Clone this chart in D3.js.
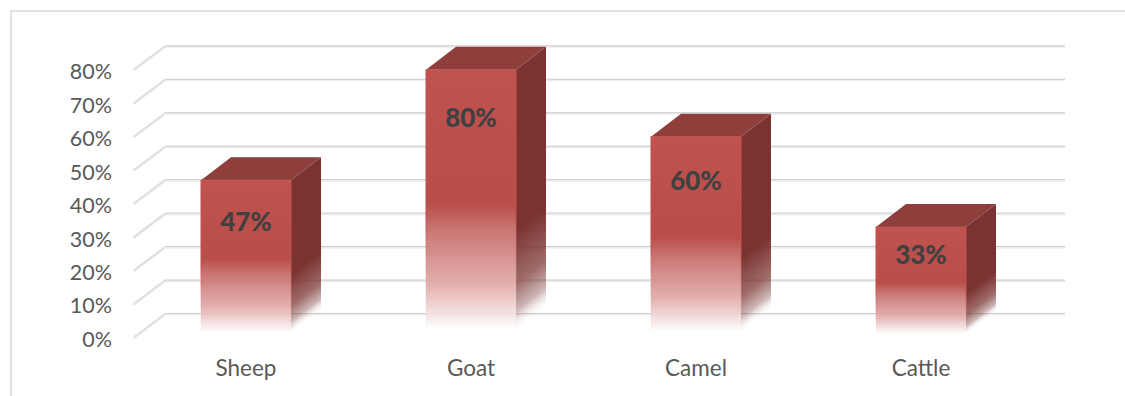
<!DOCTYPE html>
<html><head><meta charset="utf-8">
<script src="https://cdn.jsdelivr.net/npm/d3@7"></script>
<style>
html,body{margin:0;padding:0;background:#fff}
svg{display:block}
text{font-family:Lato,"Open Sans",sans-serif}
</style></head><body>
<div id="chart"></div>
<script>
const categories = ["Sheep","Goat","Camel","Cattle"];
const values = [47,80,60,33];
const valueTicks = [0,10,20,30,40,50,60,70,80];

const W=1125,H=396, gdx=32, gdy=-24, dx=30, dy=-23;
const svg=d3.select("#chart").append("svg").attr("width",W).attr("height",H);
const y=d3.scaleLinear().domain([0,80]).range([337.5,69.8]);
const x=d3.scaleBand().domain(categories).range([133.5,1033.5]).paddingInner(0.6).paddingOuter(0.3);
const defs=svg.append("defs");

// frame
svg.append("path").attr("d",`M11,396V11H${W}`).attr("fill","none").attr("stroke","#e2e2e2").attr("stroke-width",2);

// gridlines
const grid=svg.append("g");
valueTicks.forEach(t=>{
  const yy=y(t);
  grid.append("path").attr("d",`M${133.5},${yy+0.5}L${133.5+gdx},${yy+gdy+0.5}`).attr("fill","none").attr("stroke","#e6e6e6").attr("stroke-width",2.6);
  grid.append("path").attr("d",`M${133.5},${yy-0.3}L${133.5+gdx},${yy+gdy-0.3}`).attr("fill","none").attr("stroke","#d4d4d4").attr("stroke-width",0.8);
  grid.append("path").attr("d",`M${133.5+gdx},${yy+gdy+1.2}H1065`).attr("fill","none").attr("stroke","#eeeeee").attr("stroke-width",1.8);
  grid.append("path").attr("d",`M${133.5+gdx},${yy+gdy}H1065`).attr("fill","none").attr("stroke","#c9c9c9").attr("stroke-width",1);
});

// bars
const k=-dy/dx;
const labelOffsets=[51,57,53,37];
const bars=svg.append("g").selectAll("g").data(categories.map((c,i)=>({c,v:values[i],i}))).join("g");
bars.each(function(d){
  const g=d3.select(this), x0=x(d.c), w=x.bandwidth(), x1=x0+w, t=y(d.v), b=y(0);
  const fid="front"+d.i, sid="side"+d.i, eid="edge"+d.i;
  const fg=defs.append("linearGradient").attr("id",fid).attr("gradientUnits","userSpaceOnUse")
    .attr("x1",0).attr("y1",t).attr("x2",0).attr("y2",b);
  [[0,"#c0524f",1],[0.5,"#b94d4a",1],[0.6,"#c76f6c",0.95],[0.8,"#dfa6a4",0.9],[0.97,"#ffffff",0.9],[1,"#ffffff",0.9]]
    .forEach(s=>fg.append("stop").attr("offset",s[0]).attr("stop-color",s[1]).attr("stop-opacity",s[2]));
  const sg=defs.append("linearGradient").attr("id",sid).attr("gradientUnits","userSpaceOnUse")
    .attr("x1",0).attr("y1",t).attr("x2",0).attr("y2",b)
    .attr("gradientTransform",`matrix(1,${-k},0,1,0,${k*x1})`);
  [[0,"#7a3330",1],[0.6,"#7a3330",1],[0.8,"#7a3330",0.72],[0.9,"#7a3f3c",0.38],[0.98,"#ffffff",0]]
    .forEach(s=>sg.append("stop").attr("offset",s[0]).attr("stop-color",s[1]).attr("stop-opacity",s[2]));
  const eg=defs.append("linearGradient").attr("id",eid).attr("gradientUnits","userSpaceOnUse")
    .attr("x1",0).attr("y1",t).attr("x2",0).attr("y2",b);
  [[0,"#c0524f",1],[0.55,"#c0524f",1],[0.98,"#f4dcdb",0]]
    .forEach(s=>eg.append("stop").attr("offset",s[0]).attr("stop-color",s[1]).attr("stop-opacity",s[2]));
  g.append("path").attr("d",`M${x1},${t}L${x1+dx},${t+dy}V${b+dy}L${x1},${b}Z`).attr("fill",`url(#${sid})`);
  g.append("path").attr("d",`M${x0},${t}L${x0+dx},${t+dy}H${x1+dx}L${x1},${t}Z`).attr("fill","#8e3e3b");
  g.append("rect").attr("x",x0).attr("y",t).attr("width",w).attr("height",b-t).attr("fill",`url(#${fid})`)
    .attr("stroke",`url(#${eid})`).attr("stroke-width",1);
  g.append("text").attr("x",x0+w/2).attr("y",t+labelOffsets[d.i]).attr("text-anchor","middle")
    .attr("font-size",26).attr("font-weight",900).attr("fill","#404040").text(d.v+"%");
});

// axes
const yAxis=d3.axisLeft(y).tickValues(valueTicks).tickFormat(v=>v+"%").tickSize(0).tickPadding(0);
const ya=svg.append("g").attr("transform","translate(112,2)").call(yAxis);
ya.select(".domain").remove();
ya.selectAll("text").attr("font-size",21.5).attr("fill","#595959").style("font-family","Lato,'Open Sans',sans-serif");

const xAxis=d3.axisBottom(x).tickSize(0).tickPadding(0);
const xa=svg.append("g").attr("transform","translate(0,360)").call(xAxis);
xa.select(".domain").remove();
xa.selectAll("text").attr("font-size",22.5).attr("fill","#595959").style("font-family","Lato,'Open Sans',sans-serif");
</script>
</body></html>
